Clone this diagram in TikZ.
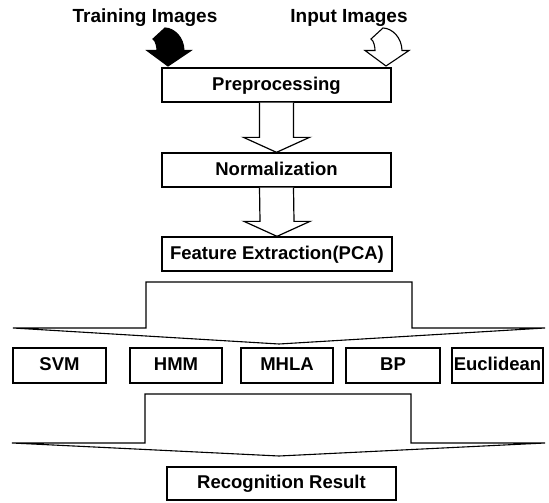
\documentclass[tikz,border=0pt]{standalone}
\usepackage{fontspec}
\setmainfont{Liberation Sans}
\usetikzlibrary{calc}

\tikzset{
  lbl/.style={font=\fontsize{19}{21}\selectfont\bfseries, inner sep=0pt},
  stagebox/.style={draw=black, line width=1.3pt, fill=white, inner sep=0pt,
    font=\fontsize{18.5}{20}\selectfont\bfseries,
    text height=13pt, text depth=3pt},
  blk/.style={draw=black, line width=1.2pt, fill=white, line join=miter},
  curvy/.style={draw=black, line width=1.1pt, line join=miter},
}

% curved block arrow pointing down, tip at the given point
\newcommand{\curvedarrow}[2]{%
  \draw[curvy,#2] (#1) -- ++(23,-15.5) -- ++(-7,0)
    .. controls ++(-0.3,-13) and ++(9.3,0.3) .. ++(-19,-22.5)
    -- ++(-12,11) .. controls ++(3,1.7) and ++(0,-3) .. ++(4,11.5)
    -- ++(-10,0) -- cycle;}

% straight block arrow from the bottom of one box to the top of another
\newcommand{\stagearrow}[2]{%
  \draw[blk] ($(#1.south)+(-17,0)$) -- ($(#2.north)+(-17,-15)$)
    -- ($(#2.north)+(-33,-15)$) -- (#2.north) -- ($(#2.north)+(33,-15)$)
    -- ($(#2.north)+(17,-15)$) -- ($(#1.south)+(17,0)$);}

\begin{document}
\begin{tikzpicture}[x=1pt, y=-1pt]
  \useasboundingbox (0,0) rectangle (549,503);

  % source labels
  \node[lbl, anchor=base] (train) at (145,23) {Training Images};
  \node[lbl, anchor=base] (input) at (349,23) {Input Images};

  % pipeline stages
  \node[stagebox, minimum width=229pt, minimum height=34pt] (pre)  at (276.5,85)  {Preprocessing};
  \node[stagebox, minimum width=229pt, minimum height=34pt] (norm) at (276.5,170) {Normalization};
  \node[stagebox, minimum width=230pt, minimum height=34pt] (feat) at (277,254)   {Feature Extraction(PCA)};

  % classifiers
  \node[stagebox, minimum width=93pt, minimum height=35pt] (svm) at (59.5,365.5) {SVM};
  \node[stagebox, minimum width=92pt, minimum height=35pt] (hmm) at (176,365.5)  {HMM};
  \node[stagebox, minimum width=92pt, minimum height=35pt] (mhla) at (287,365.5) {MHLA};
  \node[stagebox, minimum width=94pt, minimum height=35pt] (bp) at (393,365.5)   {BP};
  \node[stagebox, minimum width=91pt, minimum height=35pt] (eucl) at (497.5,365.5) {Euclidean};

  \node[stagebox, minimum width=229pt, minimum height=33pt] (res) at (281.5,483.5) {Recognition Result};

  % curved input arrows
  \coordinate (trainTip) at (168,66);
  \coordinate (inputTip) at (386,66);
  \curvedarrow{trainTip}{fill=black}
  \curvedarrow{inputTip}{fill=white}

  % arrows between stages
  \stagearrow{pre}{norm}
  \stagearrow{norm}{feat}

  % wide branching arrows
  \coordinate (fanA) at (279,344);
  \draw[blk, line width=1.1pt] (13,328) -- (146,328) -- (146,282) -- (412,282) -- (412,328)
    -- (545,328) -- (fanA) -- cycle;
  \coordinate (fanB) at (279,456);
  \draw[blk, line width=1.1pt] (12,443) -- (145,443) -- (145,394) -- (411,394) -- (411,443)
    -- (545,443) -- (fanB) -- cycle;
\end{tikzpicture}
\end{document}
